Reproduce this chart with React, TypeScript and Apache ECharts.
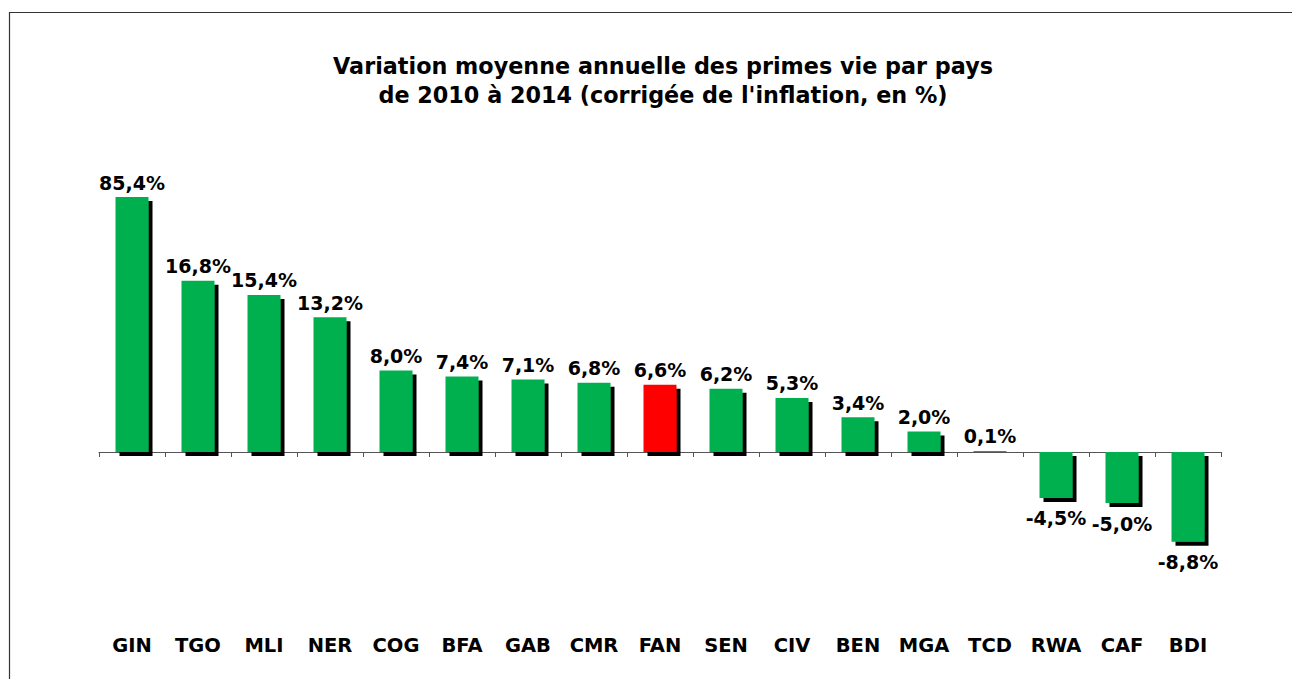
import React, { useEffect, useRef } from "react";
import * as echarts from "echarts";

const TITLE_LINES = [
  "Variation moyenne annuelle des primes vie par pays",
  "de 2010 à 2014 (corrigée de l'inflation, en %)",
];
const categories = ["GIN", "TGO", "MLI", "NER", "COG", "BFA", "GAB", "CMR", "FAN", "SEN", "CIV", "BEN", "MGA", "TCD", "RWA", "CAF", "BDI"];
const values = [85.4, 16.8, 15.4, 13.2, 8.0, 7.4, 7.1, 6.8, 6.6, 6.2, 5.3, 3.4, 2.0, 0.1, -4.5, -5.0, -8.8];
const highlighted = "FAN";
const AXIS_MIN = -10;
const AXIS_MAX = 25;

const GREEN = "#00B050";
const RED = "#FF0000";
const FONT = "'DejaVu Sans', Arial, sans-serif";

const fmt = (v: number) => v.toFixed(1).replace(".", ",") + "%";

export default function App() {
  const ref = useRef<HTMLDivElement>(null);

  useEffect(() => {
    if (!ref.current) return;
    const chart = echarts.init(ref.current, null, { renderer: "svg" });
    const data = values.map((v, i) => ({
      value: Math.min(v, AXIS_MAX),
      realValue: v,
      itemStyle: { color: categories[i] === highlighted ? RED : GREEN },
      label: {
        position: v < 0 ? "bottom" : "top",
        distance: v < 0 ? 11 : 5,
      },
    }));
    chart.setOption({
      animation: false,
      backgroundColor: "#ffffff",
      title: {
        text: TITLE_LINES.join("\n"),
        left: 658,
        textAlign: "center",
        top: 46,
        textStyle: {
          fontFamily: FONT,
          fontWeight: "bold",
          fontSize: 22.3,
          lineHeight: 29,
          color: "#000",
        },
      },
      graphic: [
        {
          type: "rect",
          shape: { x: 9.5, y: 12.5, width: 1400, height: 800 },
          style: { fill: "none", stroke: "#333", lineWidth: 1.2 },
          silent: true,
        },
      ],
      grid: { left: 99, right: 71, top: 197, bottom: 125, containLabel: false },
      xAxis: [
        {
          type: "category",
          data: categories,
          position: "bottom",
          axisLine: { onZero: true, lineStyle: { color: "#555", width: 1 } },
          axisTick: { show: true, alignWithLabel: false, length: 5, lineStyle: { color: "#555" } },
          axisLabel: { show: false },
          splitLine: { show: false },
        },
        {
          type: "category",
          data: categories,
          position: "bottom",
          axisLine: { show: false, onZero: false },
          axisTick: { show: false },
          axisLabel: {
            show: true,
            interval: 0,
            margin: 81,
            fontFamily: FONT,
            fontWeight: "bold",
            fontSize: 19.5,
            color: "#000",
          },
          splitLine: { show: false },
        },
      ],
      yAxis: {
        type: "value",
        min: AXIS_MIN,
        max: AXIS_MAX,
        show: false,
        splitLine: { show: false },
      },
      series: [
        {
          type: "bar",
          xAxisIndex: 0,
          barWidth: "50%",
          data,
          itemStyle: {
            shadowColor: "#000",
            shadowOffsetX: 4,
            shadowOffsetY: 4,
            shadowBlur: 0,
          },
          label: {
            show: true,
            fontFamily: FONT,
            fontWeight: "bold",
            fontSize: 19,
            color: "#000",
            formatter: (p: any) => fmt(p.data.realValue),
          },
        },
      ],
    });
    return () => chart.dispose();
  }, []);

  return (
    <div
      ref={ref}
      style={{ position: "absolute", left: 0, top: 0, width: 1292, height: 679 }}
    />
  );
}
